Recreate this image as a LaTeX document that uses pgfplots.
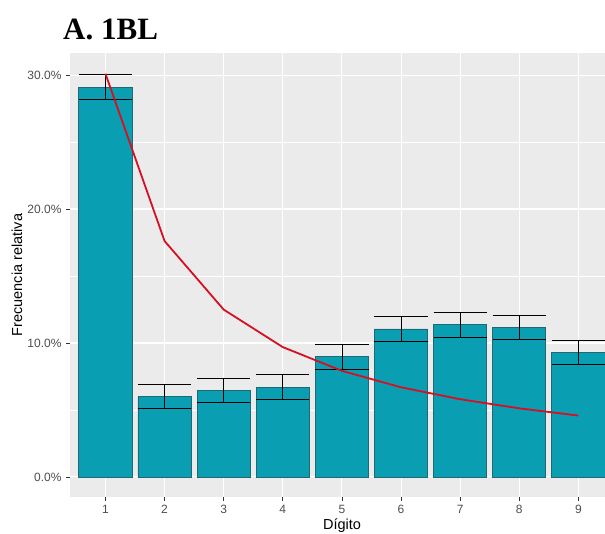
\documentclass[border=0pt]{standalone}
\usepackage{pgfplots}
\pgfplotsset{compat=1.18}
\usepackage{fontspec}
\setmainfont{Liberation Sans}
\newfontfamily\titlefont{Liberation Serif}

\definecolor{panel}{RGB}{235,235,235}
\definecolor{barfill}{RGB}{10,158,178}
\definecolor{baredge}{RGB}{30,105,115}
\definecolor{benford}{RGB}{215,15,35}
\definecolor{ticktext}{RGB}{77,77,77}
\definecolor{tickmark}{RGB}{51,51,51}

% Observed first-digit frequencies (%) with their error half-widths
\pgfplotstableread{
d  f     e
1  29.10 0.92
2   6.00 0.91
3   6.45 0.92
4   6.70 0.93
5   8.98 0.92
6  11.05 0.93
7  11.35 0.95
8  11.15 0.92
9   9.30 0.91
}\observed

% Benford's law expected frequencies (%)
\pgfplotstableread{
d  p
1  30.10
2  17.61
3  12.49
4   9.69
5   7.92
6   6.69
7   5.80
8   5.12
9   4.58
}\benfordtab

\begin{document}
\begin{tikzpicture}
\begin{axis}[
  scale only axis,
  width=535pt, height=444pt,
  xmin=0.4, xmax=9.45,
  ymin=-1.5, ymax=31.65,
  axis background/.style={fill=panel},
  axis line style={draw=none},
  xtick={1,...,9},
  ytick={0,10,20,30},
  yticklabels={0.0\%,10.0\%,20.0\%,30.0\%},
  minor ytick={5,15,25},
  xtick pos=bottom, ytick pos=left,
  grid=both,
  major grid style={white, line width=1.1pt},
  minor grid style={white, line width=0.55pt},
  tick align=outside,
  major tick length=4pt,
  minor tick length=0pt,
  tick style={tickmark, line width=0.8pt},
  ticklabel style={font=\fontsize{12}{14}\selectfont, text=ticktext},
  xticklabel style={yshift=-1pt},
  yticklabel style={xshift=-1pt},
  /pgf/number format/assume math mode=true,
  clip=false,
]
\addplot[ybar, bar width=0.9, bar shift=0pt, fill=barfill, draw=baredge, line width=0.8pt]
  table[x=d, y=f] {\observed};
\addplot[draw=none, mark=none,
  error bars/.cd, y dir=both, y explicit, error mark=|,
  error bar style={black, line width=0.8pt},
  error mark options={black, line width=0.8pt, mark size=26.6pt}]
  table[x=d, y=f, y error=e] {\observed};
\addplot[benford, line width=1.8pt, mark=none] table[x=d, y=p] {\benfordtab};
\coordinate (SW) at (rel axis cs:0,0);
\coordinate (NE) at (rel axis cs:1,1);
\end{axis}
\node[anchor=base west, inner sep=0pt, font=\titlefont\bfseries\fontsize{31}{36}\selectfont]
  at ([shift={(-7pt,13pt)}]SW |- NE) {A. 1BL};
\node[rotate=90, anchor=center, inner sep=0pt, font=\fontsize{14.5}{17}\selectfont]
  at ([shift={(-53pt,222pt)}]SW) {Frecuencia relativa};
\node[anchor=base, inner sep=0pt, font=\fontsize{14.5}{17}\selectfont]
  at ([shift={(272pt,-32.5pt)}]SW) {Dígito};
\pgfresetboundingbox
\path[use as bounding box] ([shift={(-70pt,-36pt)}]SW) rectangle ([shift={(0pt,53pt)}]NE);
\end{tikzpicture}
\end{document}
